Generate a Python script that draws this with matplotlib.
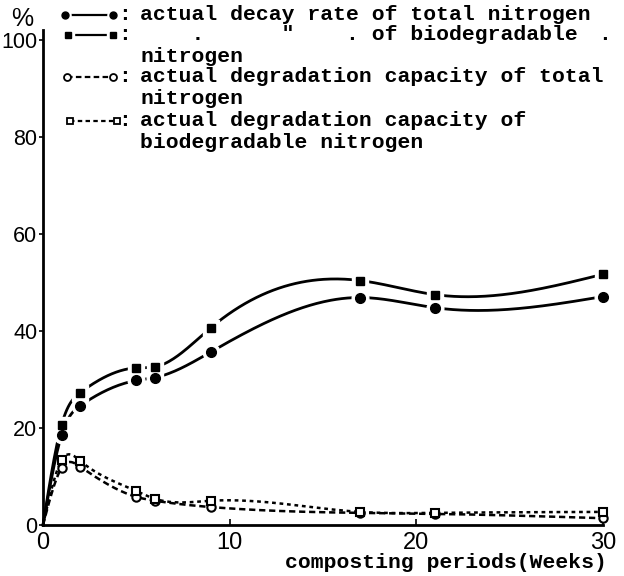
import numpy as np
import matplotlib
matplotlib.use("Agg")
import matplotlib.pyplot as plt
from matplotlib.lines import Line2D

# composting weeks (week 0 = start, curves begin at the origin)
weeks = [0, 1, 2, 5, 6, 9, 17, 21, 30]

# actual decay rate (%)
decay_total = [0, 18.6, 24.6, 29.8, 30.4, 35.7, 46.9, 44.8, 47.1]
decay_bio = [0, 20.7, 27.3, 32.4, 32.6, 40.7, 50.4, 47.5, 51.7]

# actual degradation capacity (%)
capacity_total = [0, 11.8, 12.0, 5.8, 5.0, 3.7, 2.5, 2.3, 1.4]
capacity_bio = [0, 13.4, 13.2, 7.0, 5.4, 5.0, 2.7, 2.5, 2.7]

x_ticks = [0, 10, 20, 30]
y_ticks = [0, 20, 40, 60, 80, 100]

legend_lines = [
    "actual decay rate of total nitrogen",
    '    .      "    . of biodegradable',
    "nitrogen",
    "actual degradation capacity of total",
    "nitrogen",
    "actual degradation capacity of",
    "biodegradable nitrogen",
]

W, H = 624, 576
MONO = "Liberation Mono"
SANS = ["Liberation Sans Narrow", "Liberation Sans", "DejaVu Sans"]


def fx(px):
    return px / W


def fy(py):
    return 1 - py / H


def smooth(x, y, n=400):
    # natural cubic spline through the measured points
    x = np.asarray(x, float)
    y = np.asarray(y, float)
    h = np.diff(x)
    m = len(x)
    A = np.zeros((m, m))
    d = np.zeros(m)
    A[0, 0] = A[-1, -1] = 1
    for i in range(1, m - 1):
        A[i, i - 1] = h[i - 1]
        A[i, i] = 2 * (h[i - 1] + h[i])
        A[i, i + 1] = h[i]
        d[i] = 6 * ((y[i + 1] - y[i]) / h[i] - (y[i] - y[i - 1]) / h[i - 1])
    M = np.linalg.solve(A, d)
    xs = np.linspace(x[0], x[-1], n)
    k = np.clip(np.searchsorted(x, xs) - 1, 0, m - 2)
    hk = h[k]
    a = x[k + 1] - xs
    b = xs - x[k]
    ys = (M[k] * a**3 + M[k + 1] * b**3) / (6 * hk) \
        + (y[k] / hk - M[k] * hk / 6) * a + (y[k + 1] / hk - M[k + 1] * hk / 6) * b
    return xs, ys


fig = plt.figure(figsize=(W / 100, H / 100), dpi=100)
ax = fig.add_axes([fx(43), fy(525), fx(603) - fx(43), (525 - 40) / H])

# solid curves: white halo under the markers gives the broken-line look
for vals, mk, ms in [(decay_total, "o", 7), (decay_bio, "s", 6)]:
    xs, ys = smooth(weeks, vals)
    ax.plot(xs, ys, color="k", lw=2, zorder=2)
    ax.plot(weeks[1:], vals[1:], ls="none", marker=mk, ms=ms + 5, color="white", zorder=3)
    ax.plot(weeks[1:], vals[1:], ls="none", marker=mk, ms=ms, color="k", zorder=4)

# dashed curves with open markers
for vals, mk, ls in [(capacity_total, "o", (0, (2.5, 1.5))), (capacity_bio, "s", (0, (1.5, 1.5)))]:
    xs, ys = smooth(weeks, vals)
    ax.plot(xs, ys, color="k", lw=1.8, ls=ls, zorder=2)
    ax.plot(weeks[1:], vals[1:], ls="none", marker=mk, ms=6, mfc="white", mec="k",
            mew=1.5, zorder=4)

ax.set_xlim(0, 30)
ax.set_ylim(0, 100)
ax.set_xticks(x_ticks)
ax.set_yticks(y_ticks)
ax.spines["top"].set_visible(False)
ax.spines["right"].set_visible(False)
ax.spines["left"].set_linewidth(2)
ax.spines["bottom"].set_linewidth(2)
ax.spines["left"].set_bounds(0, 102)
ax.tick_params(axis="y", direction="out", length=3, width=1.2, pad=1)
ax.tick_params(axis="x", direction="in", length=4, width=1.2, pad=5)
for lab in ax.get_yticklabels():
    lab.set_family(SANS)
    lab.set_fontsize(15.5)
for lab in ax.get_xticklabels():
    lab.set_family(SANS)
    lab.set_fontsize(17)
for ln in ax.lines:
    ln.set_clip_on(False)

# hand-made legend at the top
fig.text(fx(22), fy(19), "%", family=SANS, fontsize=18, ha="center", va="center")

samples = [
    (65, 113, 15, "o", "o", True, "-"),
    (68, 113, 35, "s", "s", True, "-"),
    (67, 113, 77, "o", "o", False, (0, (2.5, 1.5))),
    (70, 117, 121, "s", "s", False, (0, (2, 1.5))),
]
for x0, x1, yy, m0, m1, filled, ls in samples:
    fig.add_artist(Line2D([fx(x0), fx(x1)], [fy(yy), fy(yy)], transform=fig.transFigure,
                          color="k", lw=1.6, ls=ls))
    for xm, mk in [(x0, m0), (x1, m1)]:
        if filled:
            fig.add_artist(Line2D([fx(xm)], [fy(yy)], transform=fig.transFigure, ls="none",
                                  marker=mk, ms=8, color="white"))
            fig.add_artist(Line2D([fx(xm)], [fy(yy)], transform=fig.transFigure, ls="none",
                                  marker=mk, ms=5, color="k"))
        else:
            fig.add_artist(Line2D([fx(xm)], [fy(yy)], transform=fig.transFigure, ls="none",
                                  marker=mk, ms=5, mfc="white", mec="k", mew=1.3))
    fig.text(fx(125), fy(yy), ":", family=MONO, fontsize=15.4, weight="bold",
             ha="center", va="center")

rows = [15, 35, 56, 77, 98, 121, 142]
for txt, yy in zip(legend_lines, rows):
    fig.text(fx(140), fy(yy), txt, family=MONO, fontsize=15.4, weight="bold",
             ha="left", va="center")
# stray speck at the end of the second legend row
fig.text(fx(605), fy(35), ".", family=MONO, fontsize=15.4, weight="bold",
         ha="center", va="center")

fig.text(fx(607), fy(562), "composting periods(Weeks)", family=MONO, fontsize=15.4,
         weight="bold", ha="right", va="center")

fig.savefig("out.png", dpi=100)
